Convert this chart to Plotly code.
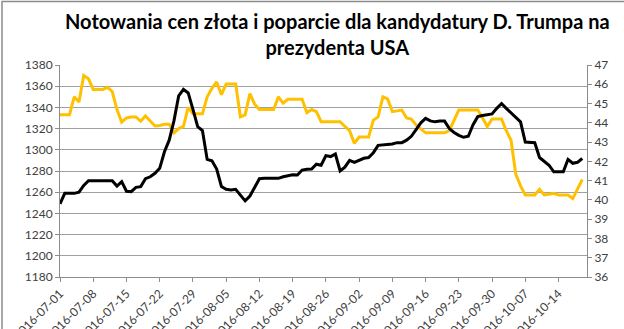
import datetime as dt
import plotly.graph_objects as go

start = dt.date(2016, 7, 1)
n_days = 111

# Trump support (%), right axis - daily readings
trump_support = [
    39.8, 40.34, 40.34, 40.34, 40.4, 40.75, 41.0, 41.0, 41.0, 41.0,
    41.0, 41.0, 40.72, 40.95, 40.45, 40.43, 40.65, 40.69, 41.1, 41.2,
    41.38, 41.64, 42.5, 43.1, 44.1, 45.4, 45.74, 45.55, 44.7, 43.8,
    43.6, 42.1, 42.03, 41.6, 40.7, 40.55, 40.51, 40.55, 40.25, 39.95,
    40.2, 40.65, 41.1, 41.12, 41.12, 41.12, 41.12, 41.2, 41.24, 41.3,
    41.29, 41.55, 41.59, 41.6, 41.85, 41.8, 42.3, 42.25, 42.38, 41.5,
    41.7, 42.05, 41.95, 42.05, 42.16, 42.2, 42.45, 42.83, 42.85, 42.85,
    42.9, 42.97, 42.97, 43.1, 43.3, 43.65, 44.0, 44.23, 44.1, 44.05,
    44.09, 44.09, 43.7, 43.5, 43.35, 43.25, 43.3, 43.9, 44.32, 44.38,
    44.42, 44.46, 44.75, 45.0, 44.75, 44.5, 44.3, 44.05, 43.0, 42.97,
    42.97, 42.2, 42.0, 41.8, 41.46, 41.46, 41.46, 42.1, 41.9, 41.95,
    42.15,
]

# Gold price (USD/oz), left axis - daily readings
gold_price = [
    1333, 1333, 1333, 1350, 1345, 1370, 1367, 1357, 1357, 1357,
    1359, 1355, 1338, 1326, 1330, 1331, 1331, 1327, 1332, 1327,
    1322.5, 1323, 1324, 1324, 1316, 1320, 1322, 1340, 1334, 1334,
    1334, 1350, 1358, 1364, 1352, 1362, 1362, 1362, 1331, 1333,
    1353, 1343, 1338, 1338, 1338, 1338, 1350, 1344, 1347.6, 1347.6,
    1347.6, 1347.6, 1335, 1338, 1336, 1326.5, 1326.5, 1326.5, 1326.5, 1326.5,
    1322, 1318, 1306, 1312, 1312, 1312, 1328, 1331, 1350, 1348,
    1336, 1337, 1337.5, 1330, 1329, 1323.5, 1320, 1316, 1316, 1316,
    1316, 1316, 1318, 1328, 1337.5, 1337.5, 1337.5, 1337.5, 1337.5, 1330,
    1322, 1329, 1329, 1329, 1318, 1309, 1277, 1266, 1257.4, 1257.4,
    1257.4, 1262.7, 1257.4, 1258, 1259, 1257.4, 1257.4, 1257.4, 1254, 1263,
    1272,
]

dates = [start + dt.timedelta(days=i) for i in range(len(gold_price))]
tick_dates = [start + dt.timedelta(days=7 * k) for k in range(16)]
tick_labels = [d.strftime("%Y-%m-%d") for d in tick_dates]

title_text = "Notowania cen złota i poparcie dla kandydatury D. Trumpa na<br>prezydenta USA"

W, H = 624, 329
ml, mr, mt, mb = 60, 37, 65, 52
pw, ph = W - ml - mr, H - mt - mb

fig = go.Figure()
fig.add_trace(go.Scatter(
    x=dates, y=gold_price, mode="lines", name="Złoto",
    line=dict(color="#FFC000", width=3), yaxis="y",
))
fig.add_trace(go.Scatter(
    x=dates, y=trump_support, mode="lines", name="Trump",
    line=dict(color="#000000", width=3), yaxis="y2",
))

tickfont = dict(family="Lato, Liberation Sans, sans-serif", size=12, color="#404040")

fig.update_layout(
    width=W, height=H,
    margin=dict(l=ml, r=mr, t=mt, b=mb, autoexpand=False),
    paper_bgcolor="white", plot_bgcolor="white",
    showlegend=False,
    xaxis=dict(
        type="date",
        range=[start, start + dt.timedelta(days=n_days)],
        tickvals=tick_dates, ticktext=tick_labels,
        tickangle=-45, tickfont=tickfont,
        showgrid=False, showline=True, linecolor="#8c8c8c", linewidth=1,
        ticks="outside", ticklen=4, tickcolor="#8c8c8c",
        automargin=False, zeroline=False,
    ),
    yaxis=dict(
        range=[1180, 1380], dtick=20, tick0=1180,
        tickfont=tickfont,
        showgrid=True, gridcolor="#a0a0a0", gridwidth=1,
        showline=True, linecolor="#8c8c8c", linewidth=1,
        ticks="outside", ticklen=4, tickcolor="#8c8c8c",
        zeroline=False, automargin=False,
    ),
    yaxis2=dict(
        range=[36, 47], dtick=1, tick0=36,
        overlaying="y", side="right",
        tickfont=tickfont,
        showgrid=False,
        showline=True, linecolor="#8c8c8c", linewidth=1,
        ticks="outside", ticklen=4, tickcolor="#8c8c8c",
        zeroline=False, automargin=False,
    ),
)

fig.add_annotation(
    text=title_text, xref="paper", yref="paper",
    x=(337 - ml) / pw, y=1 + (mt - 7) / ph,
    xanchor="center", yanchor="top", showarrow=False, align="center",
    font=dict(family="Lato, Liberation Sans, sans-serif", size=20, color="#000000",
              weight="bold"),
)

# outer chart frame
fig.add_shape(
    type="rect", xref="paper", yref="paper",
    x0=(2 - ml) / pw, x1=(W + 5 - ml) / pw,
    y0=-(H + 5 - mt - ph) / ph, y1=1 + (mt - 1.5) / ph,
    line=dict(color="#8c8c8c", width=1.5), fillcolor="rgba(0,0,0,0)",
    layer="below",
)

fig.write_html("out.html")
